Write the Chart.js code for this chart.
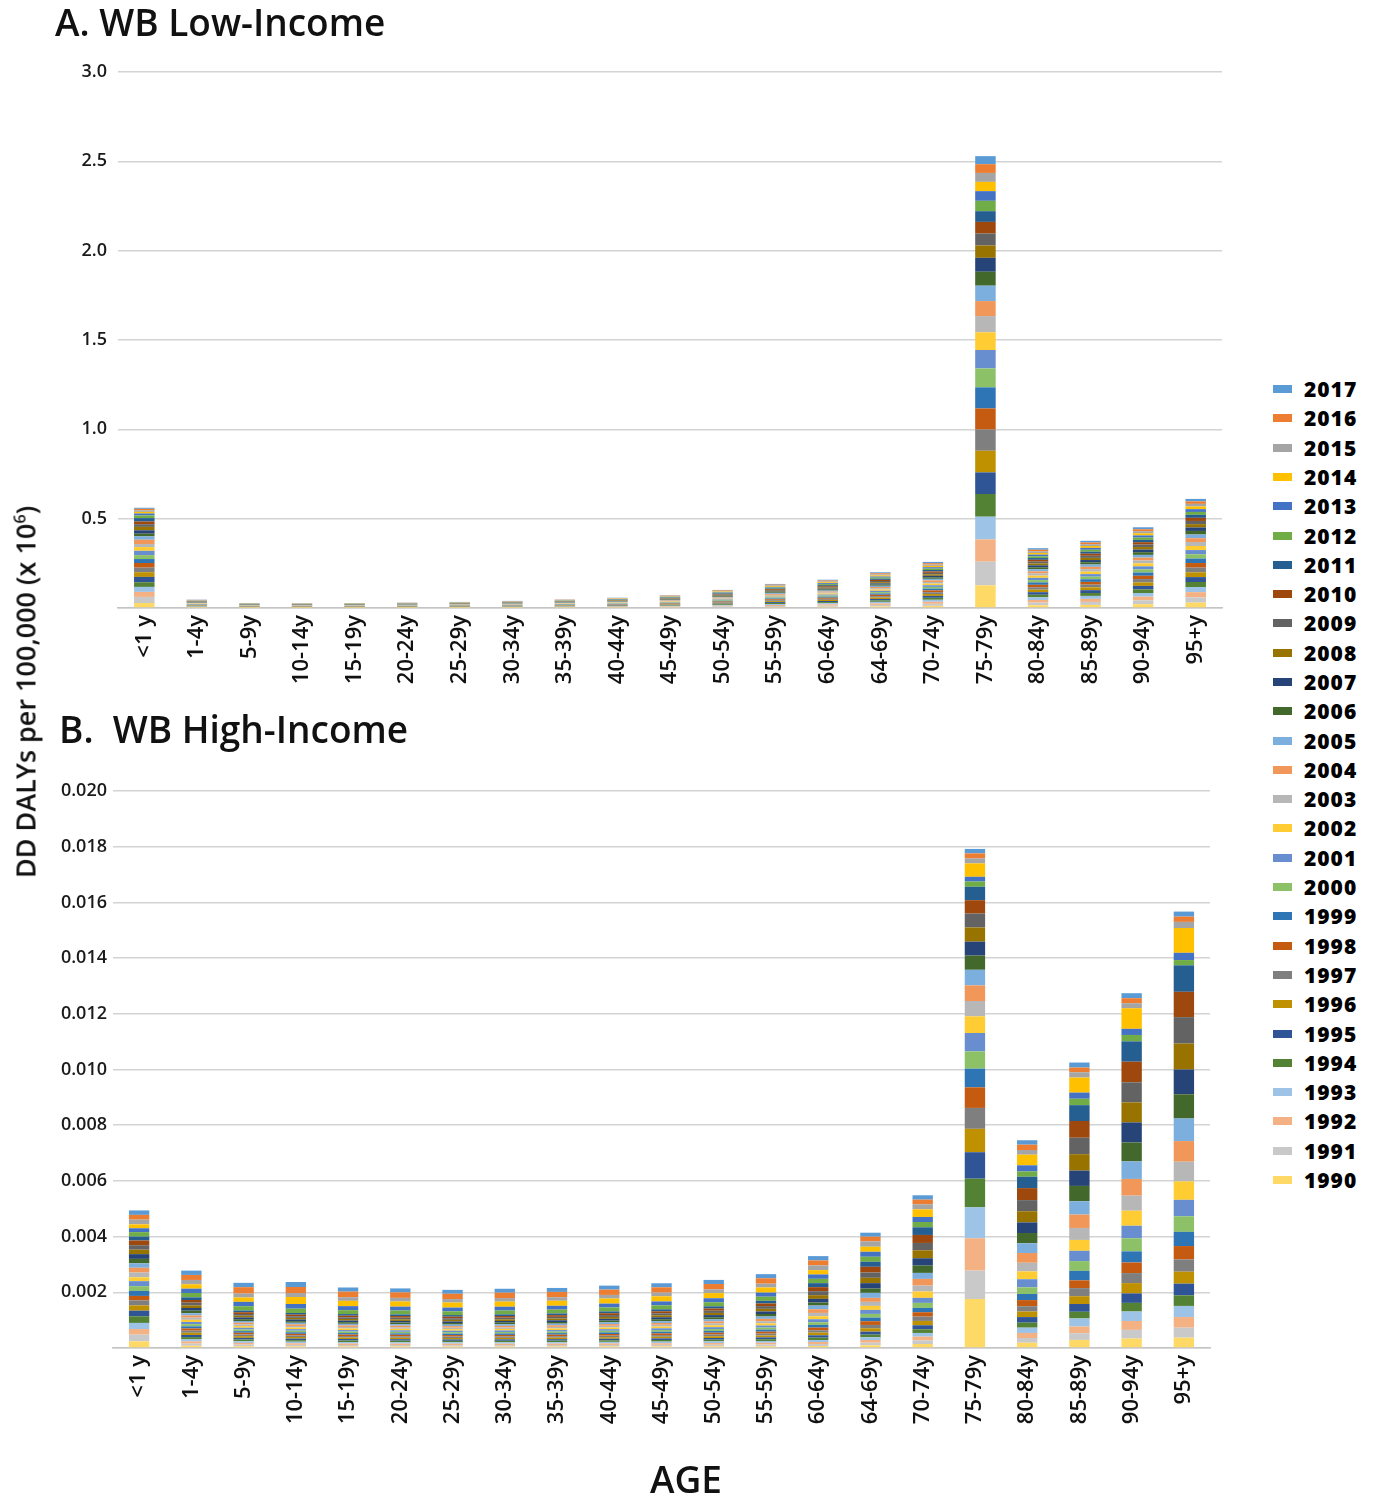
<!DOCTYPE html>
<html><head><meta charset="utf-8">
<script src="https://cdn.jsdelivr.net/npm/chart.js@4.4.1/dist/chart.umd.min.js"></script>
<style>
html,body{margin:0;padding:0;background:#fff;}
#wrap{position:relative;width:1382px;height:1496px;overflow:hidden;font-family:'Open Sans',sans-serif;background:#fff;}
canvas{position:absolute;}
#cA{left:0;top:0;}
#cB{left:0;top:700px;}
#ytitle{position:absolute;left:25px;top:692px;transform:translate(-50%,-50%) rotate(-90deg);white-space:nowrap;font-size:27px;font-weight:600;color:#111;}
#ytitle sup{font-size:0.6em;vertical-align:super;line-height:0;}
#xtitle{position:absolute;left:686px;top:1478px;transform:translate(-50%,-50%);font-size:37px;font-weight:600;color:#111;}
#legend{position:absolute;left:1273px;top:374.4px;}
.li{height:29.3px;display:flex;align-items:center;}
.sw{width:19px;height:8px;margin-right:12px;}
.lt{font-size:21px;font-weight:800;letter-spacing:1px;color:#000;}
</style></head><body>
<div id="wrap">
<canvas id="cA" width="1240" height="700"></canvas>
<canvas id="cB" width="1240" height="796"></canvas>
<div id="ytitle">DD DALYs per 100,000 (x 10<sup>6</sup>)</div>
<div id="xtitle">AGE</div>
<div id="legend"></div>
</div>
<script>
// ---------- categories & series ----------
const AGE_GROUPS = ["<1 y","1-4y","5-9y","10-14y","15-19y","20-24y","25-29y","30-34y","35-39y","40-44y","45-49y","50-54y","55-59y","60-64y","64-69y","70-74y","75-79y","80-84y","85-89y","90-94y","95+y"];
const YEARS = ["1990","1991","1992","1993","1994","1995","1996","1997","1998","1999","2000","2001","2002","2003","2004","2005","2006","2007","2008","2009","2010","2011","2012","2013","2014","2015","2016","2017"];
const YEAR_COLORS = ["#FFD966","#C9C9C9","#F4B183","#9DC3E6","#548235","#2F5597","#BF9000","#7F7F7F","#C55A11","#2E75B6","#8CC168","#698ED0","#FFCD33","#B7B7B7","#F1975A","#7CAFDD","#43682B","#264478","#997300","#636363","#9E480E","#255E91","#70AD47","#4472C4","#FFC000","#A5A5A5","#ED7D31","#5B9BD5"];

// ---------- A. WB Low-Income (values per age group, years 1990..2017) ----------
const L_lt1   = [0.028,0.034,0.028,0.028,0.026,0.030,0.026,0.026,0.026,0.022,0.022,0.024,0.021,0.017,0.024,0.019,0.015,0.019,0.019,0.015,0.015,0.019,0.015,0.011,0.009,0.009,0.008,0.006];
const L_1_4   = [0.0021,0.0020,0.0020,0.0019,0.0019,0.0019,0.0018,0.0018,0.0018,0.0017,0.0017,0.0017,0.0017,0.0016,0.0016,0.0016,0.0016,0.0016,0.0016,0.0015,0.0015,0.0015,0.0015,0.0015,0.0014,0.0014,0.0014,0.0014];
const L_5_9   = [0.0012,0.0012,0.0012,0.0011,0.0011,0.0011,0.0011,0.0011,0.0010,0.0010,0.0010,0.0010,0.0010,0.0010,0.0010,0.0010,0.0010,0.0009,0.0009,0.0009,0.0009,0.0009,0.0009,0.0009,0.0009,0.0009,0.0008,0.0008];
const L_10_14 = [0.0011,0.0011,0.0011,0.0011,0.0011,0.0010,0.0010,0.0010,0.0010,0.0010,0.0010,0.0010,0.0010,0.0010,0.0009,0.0009,0.0009,0.0009,0.0009,0.0009,0.0009,0.0009,0.0009,0.0009,0.0009,0.0008,0.0008,0.0008];
const L_15_19 = [0.0012,0.0011,0.0011,0.0011,0.0011,0.0011,0.0011,0.0010,0.0010,0.0010,0.0010,0.0010,0.0010,0.0010,0.0010,0.0010,0.0010,0.0010,0.0009,0.0009,0.0009,0.0009,0.0009,0.0009,0.0009,0.0009,0.0009,0.0008];
const L_20_24 = [0.0013,0.0012,0.0012,0.0012,0.0012,0.0012,0.0011,0.0011,0.0011,0.0011,0.0011,0.0011,0.0011,0.0011,0.0010,0.0010,0.0010,0.0010,0.0010,0.0010,0.0010,0.0010,0.0010,0.0010,0.0010,0.0009,0.0009,0.0009];
const L_25_29 = [0.0015,0.0014,0.0014,0.0014,0.0014,0.0013,0.0013,0.0013,0.0013,0.0013,0.0012,0.0012,0.0012,0.0012,0.0012,0.0012,0.0012,0.0012,0.0011,0.0011,0.0011,0.0011,0.0011,0.0011,0.0011,0.0010,0.0010,0.0010];
const L_30_34 = [0.0017,0.0017,0.0016,0.0016,0.0016,0.0016,0.0015,0.0015,0.0015,0.0015,0.0015,0.0014,0.0014,0.0014,0.0014,0.0014,0.0014,0.0014,0.0013,0.0013,0.0013,0.0013,0.0013,0.0013,0.0012,0.0012,0.0012,0.0012];
const L_35_39 = [0.0021,0.0020,0.0020,0.0019,0.0019,0.0019,0.0019,0.0018,0.0018,0.0018,0.0018,0.0017,0.0017,0.0017,0.0017,0.0017,0.0016,0.0016,0.0016,0.0016,0.0016,0.0015,0.0015,0.0015,0.0015,0.0015,0.0014,0.0014];
const L_40_44 = [0.0025,0.0024,0.0024,0.0023,0.0023,0.0023,0.0022,0.0022,0.0022,0.0021,0.0021,0.0021,0.0021,0.0020,0.0020,0.0020,0.0020,0.0020,0.0019,0.0019,0.0019,0.0019,0.0018,0.0018,0.0018,0.0018,0.0017,0.0017];
const L_45_49 = [0.0031,0.0030,0.0030,0.0029,0.0029,0.0028,0.0028,0.0028,0.0027,0.0027,0.0026,0.0026,0.0026,0.0025,0.0025,0.0025,0.0024,0.0024,0.0024,0.0024,0.0023,0.0023,0.0023,0.0022,0.0022,0.0022,0.0021,0.0021];
const L_50_54 = [0.0043,0.0042,0.0042,0.0041,0.0040,0.0040,0.0039,0.0039,0.0038,0.0038,0.0037,0.0037,0.0036,0.0036,0.0035,0.0035,0.0035,0.0034,0.0034,0.0034,0.0033,0.0033,0.0033,0.0032,0.0032,0.0032,0.0031,0.0031];
const L_55_59 = [0.0057,0.0056,0.0056,0.0055,0.0054,0.0053,0.0052,0.0052,0.0051,0.0050,0.0050,0.0049,0.0048,0.0048,0.0047,0.0047,0.0046,0.0046,0.0045,0.0045,0.0044,0.0044,0.0043,0.0043,0.0042,0.0042,0.0041,0.0041];
const L_60_64 = [0.0068,0.0067,0.0066,0.0065,0.0064,0.0063,0.0062,0.0061,0.0060,0.0059,0.0058,0.0058,0.0057,0.0056,0.0056,0.0055,0.0054,0.0054,0.0053,0.0052,0.0052,0.0051,0.0050,0.0050,0.0049,0.0048,0.0048,0.0047];
const L_64_69 = [0.0088,0.0086,0.0085,0.0084,0.0082,0.0081,0.0079,0.0078,0.0077,0.0075,0.0074,0.0073,0.0072,0.0071,0.0070,0.0069,0.0068,0.0067,0.0066,0.0065,0.0064,0.0063,0.0062,0.0062,0.0061,0.0060,0.0059,0.0058];
const L_70_74 = [0.0118,0.0116,0.0114,0.0112,0.0110,0.0107,0.0105,0.0103,0.0101,0.0098,0.0096,0.0094,0.0092,0.0090,0.0089,0.0087,0.0086,0.0084,0.0083,0.0082,0.0080,0.0079,0.0078,0.0077,0.0076,0.0075,0.0074,0.0073];
const L_75_79 = [0.127,0.132,0.125,0.127,0.127,0.121,0.121,0.119,0.118,0.118,0.106,0.103,0.099,0.091,0.084,0.086,0.078,0.078,0.069,0.067,0.065,0.060,0.058,0.054,0.052,0.050,0.049,0.045];
const L_80_84 = [0.0152,0.0150,0.0148,0.0147,0.0145,0.0142,0.0140,0.0138,0.0136,0.0133,0.0130,0.0127,0.0124,0.0121,0.0118,0.0115,0.0112,0.0109,0.0106,0.0103,0.0101,0.0099,0.0097,0.0095,0.0093,0.0091,0.0089,0.0087];
const L_85_89 = [0.0172,0.0170,0.0168,0.0166,0.0163,0.0160,0.0157,0.0154,0.0151,0.0148,0.0145,0.0142,0.0139,0.0136,0.0133,0.0130,0.0127,0.0124,0.0121,0.0118,0.0115,0.0112,0.0109,0.0106,0.0103,0.0100,0.0097,0.0094];
const L_90_94 = [0.0215,0.0212,0.0208,0.0205,0.0201,0.0197,0.0193,0.0189,0.0184,0.0180,0.0176,0.0172,0.0167,0.0162,0.0158,0.0154,0.0150,0.0146,0.0142,0.0138,0.0134,0.0130,0.0126,0.0122,0.0119,0.0116,0.0113,0.0110];
const L_95p   = [0.0300,0.0296,0.0291,0.0286,0.0281,0.0275,0.0269,0.0263,0.0256,0.0249,0.0242,0.0235,0.0228,0.0221,0.0214,0.0207,0.0200,0.0193,0.0186,0.0180,0.0174,0.0168,0.0162,0.0156,0.0151,0.0146,0.0141,0.0136];

// ---------- B. WB High-Income (values per age group, years 1990..2017) ----------
const H_lt1   = [0.00024,0.00024,0.00020,0.00022,0.00024,0.00020,0.00019,0.00018,0.00016,0.00018,0.00017,0.00018,0.00014,0.00017,0.00017,0.00016,0.00016,0.00017,0.00016,0.00016,0.00017,0.00014,0.00016,0.00014,0.00014,0.00017,0.00017,0.00016];
const H_1_4   = [0.000080,0.000078,0.000079,0.000077,0.000078,0.000076,0.000079,0.000077,0.000078,0.000076,0.000078,0.000079,0.000077,0.000078,0.000079,0.000080,0.000092,0.000096,0.000094,0.000097,0.000095,0.000096,0.000156,0.000156,0.000156,0.000156,0.000180,0.000156];
const H_5_9   = [0.000062,0.000060,0.000061,0.000060,0.000062,0.000061,0.000060,0.000061,0.000060,0.000059,0.000060,0.000061,0.000060,0.000061,0.000060,0.000062,0.000063,0.000064,0.000062,0.000063,0.000062,0.000061,0.000156,0.000156,0.000156,0.000144,0.000227,0.000156];
const H_10_14 = [0.000056,0.000057,0.000056,0.000057,0.000056,0.000056,0.000057,0.000056,0.000057,0.000056,0.000057,0.000056,0.000057,0.000057,0.000058,0.000057,0.000058,0.000059,0.000058,0.000059,0.000058,0.000058,0.000156,0.000168,0.000251,0.000144,0.000215,0.000180];
const H_15_19 = [0.000054,0.000054,0.000053,0.000054,0.000053,0.000054,0.000053,0.000054,0.000053,0.000054,0.000054,0.000055,0.000055,0.000056,0.000056,0.000056,0.000058,0.000058,0.000059,0.000058,0.000059,0.000058,0.000140,0.000145,0.000190,0.000130,0.000200,0.000150];
const H_20_24 = [0.000053,0.000053,0.000052,0.000053,0.000052,0.000053,0.000052,0.000053,0.000053,0.000053,0.000054,0.000054,0.000055,0.000055,0.000056,0.000056,0.000057,0.000058,0.000058,0.000059,0.000058,0.000058,0.000140,0.000140,0.000185,0.000130,0.000195,0.000145];
const H_25_29 = [0.000052,0.000051,0.000051,0.000052,0.000051,0.000052,0.000051,0.000052,0.000052,0.000052,0.000053,0.000053,0.000054,0.000054,0.000055,0.000055,0.000056,0.000057,0.000057,0.000058,0.000057,0.000057,0.000135,0.000135,0.000180,0.000125,0.000190,0.000140];
const H_30_34 = [0.000052,0.000052,0.000051,0.000052,0.000052,0.000052,0.000052,0.000053,0.000053,0.000053,0.000054,0.000054,0.000055,0.000055,0.000056,0.000057,0.000058,0.000059,0.000059,0.000060,0.000059,0.000059,0.000138,0.000138,0.000182,0.000128,0.000192,0.000142];
const H_35_39 = [0.000053,0.000053,0.000052,0.000053,0.000053,0.000053,0.000054,0.000054,0.000054,0.000055,0.000055,0.000056,0.000056,0.000057,0.000058,0.000058,0.000060,0.000061,0.000061,0.000062,0.000061,0.000061,0.000138,0.000138,0.000180,0.000128,0.000190,0.000142];
const H_40_44 = [0.000055,0.000055,0.000055,0.000055,0.000056,0.000056,0.000056,0.000057,0.000057,0.000058,0.000058,0.000059,0.000060,0.000060,0.000061,0.000062,0.000064,0.000065,0.000066,0.000067,0.000066,0.000066,0.000140,0.000140,0.000182,0.000130,0.000190,0.000144];
const H_45_49 = [0.000057,0.000057,0.000057,0.000058,0.000058,0.000058,0.000059,0.000059,0.000060,0.000061,0.000061,0.000062,0.000063,0.000064,0.000065,0.000066,0.000068,0.000070,0.000071,0.000072,0.000071,0.000071,0.000142,0.000142,0.000185,0.000132,0.000190,0.000146];
const H_50_54 = [0.000059,0.000059,0.000060,0.000060,0.000061,0.000061,0.000062,0.000063,0.000064,0.000065,0.000066,0.000067,0.000068,0.000070,0.000071,0.000073,0.000075,0.000077,0.000078,0.000080,0.000079,0.000079,0.000145,0.000145,0.000185,0.000135,0.000190,0.000148];
const H_55_59 = [0.000062,0.000062,0.000063,0.000064,0.000065,0.000066,0.000067,0.000068,0.000070,0.000072,0.000073,0.000075,0.000077,0.000080,0.000082,0.000085,0.000089,0.000092,0.000094,0.000097,0.000096,0.000095,0.000148,0.000148,0.000182,0.000138,0.000192,0.000150];
const H_60_64 = [0.000072,0.000072,0.000072,0.000072,0.000084,0.000084,0.000096,0.000084,0.000096,0.000096,0.000096,0.000108,0.000108,0.000120,0.000132,0.000132,0.000108,0.000132,0.000132,0.000144,0.000144,0.000144,0.000156,0.000156,0.000156,0.000168,0.000180,0.000156];
const H_64_69 = [0.000096,0.000096,0.000096,0.000096,0.000096,0.000108,0.000120,0.000120,0.000132,0.000132,0.000132,0.000144,0.000144,0.000144,0.000144,0.000180,0.000156,0.000192,0.000192,0.000192,0.000204,0.000180,0.000180,0.000180,0.000180,0.000192,0.000168,0.000144];
const H_70_74 = [0.000144,0.000132,0.000132,0.000132,0.000132,0.000144,0.000156,0.000156,0.000156,0.000156,0.000180,0.000180,0.000227,0.000215,0.000239,0.000215,0.000263,0.000263,0.000287,0.000263,0.000287,0.000275,0.000191,0.000180,0.000275,0.000180,0.000168,0.000156];
const H_75_79 = [0.00176,0.00102,0.00116,0.00111,0.00103,0.00095,0.00084,0.00075,0.00074,0.00067,0.00062,0.00066,0.00060,0.00055,0.00056,0.00056,0.00051,0.00050,0.00051,0.00050,0.00048,0.00048,0.00019,0.00017,0.00048,0.00018,0.00018,0.00016];
const H_80_84 = [0.00019,0.00017,0.00018,0.00019,0.00018,0.00020,0.00020,0.00019,0.00022,0.00022,0.00024,0.00029,0.00028,0.00031,0.00035,0.00035,0.00037,0.00038,0.00040,0.00040,0.00043,0.00041,0.00019,0.00022,0.00038,0.00017,0.00019,0.00016];
const H_85_89 = [0.00029,0.00024,0.00024,0.00029,0.00024,0.00028,0.00028,0.00029,0.00028,0.00034,0.00035,0.00037,0.00039,0.00043,0.00048,0.00048,0.00055,0.00055,0.00059,0.00059,0.00060,0.00057,0.00023,0.00022,0.00054,0.00019,0.00017,0.00018];
const H_90_94 = [0.00034,0.00031,0.00032,0.00034,0.00031,0.00034,0.00037,0.00036,0.00038,0.00040,0.00047,0.00045,0.00054,0.00054,0.00060,0.00063,0.00068,0.00072,0.00072,0.00072,0.00074,0.00073,0.00023,0.00022,0.00074,0.00018,0.00018,0.00018];
const H_95p   = [0.00037,0.00036,0.00038,0.00040,0.00038,0.00042,0.00043,0.00044,0.00048,0.00051,0.00056,0.00059,0.00066,0.00071,0.00074,0.00081,0.00087,0.00089,0.00093,0.00095,0.00091,0.00095,0.00019,0.00026,0.00089,0.00022,0.00019,0.00018];

const LOW_GROUPS  = [L_lt1,L_1_4,L_5_9,L_10_14,L_15_19,L_20_24,L_25_29,L_30_34,L_35_39,L_40_44,L_45_49,L_50_54,L_55_59,L_60_64,L_64_69,L_70_74,L_75_79,L_80_84,L_85_89,L_90_94,L_95p];
const HIGH_GROUPS = [H_lt1,H_1_4,H_5_9,H_10_14,H_15_19,H_20_24,H_25_29,H_30_34,H_35_39,H_40_44,H_45_49,H_50_54,H_55_59,H_60_64,H_64_69,H_70_74,H_75_79,H_80_84,H_85_89,H_90_94,H_95p];

const TITLE_A = "A. WB Low-Income";
const TITLE_B = "B.  WB High-Income";

Chart.defaults.font.family = "'Open Sans', 'Noto Sans', sans-serif";

function buildDatasets(groups) {
  return YEARS.map((yr, i) => ({
    label: yr,
    data: groups.map(g => g[i]),
    backgroundColor: YEAR_COLORS[i],
    borderWidth: 0,
    barPercentage: 0.39,
    categoryPercentage: 1.0
  }));
}

function makeChart(id, title, groups, cfg) {
  return new Chart(document.getElementById(id), {
    type: 'bar',
    data: { labels: AGE_GROUPS, datasets: buildDatasets(groups) },
    options: {
      responsive: false,
      animation: false,
      layout: { padding: { left: cfg.padLeft, right: cfg.padRight, top: 0, bottom: cfg.padBottom } },
      plugins: {
        legend: { display: false },
        tooltip: { enabled: false },
        title: {
          display: true, text: title, align: 'start', color: '#111',
          font: { size: 37, weight: '600' },
          padding: { top: cfg.titleTop, bottom: cfg.titleBottom }
        }
      },
      scales: {
        x: {
          stacked: true,
          grid: { display: false, drawTicks: false },
          border: { display: true, color: '#c4c4c4', width: 1.5 },
          ticks: { autoSkip: false, minRotation: 90, maxRotation: 90, padding: 7, color: '#111', font: { size: 22, weight: '600' } },
          afterFit: s => { s.height = 92; }
        },
        y: {
          stacked: true, min: 0, max: cfg.max,
          grid: { color: '#d3d3d3', lineWidth: 1.5, drawTicks: false },
          border: { display: false },
          ticks: {
            stepSize: cfg.step, padding: cfg.tickPad, color: '#1a1a1a', font: { size: 18, weight: '600' },
            callback: v => (Math.abs(v) < 1e-12 ? '' : Number(v).toFixed(cfg.dec))
          },
          afterFit: s => { s.width = cfg.axisW; }
        }
      }
    }
  });
}

makeChart('cA', TITLE_A, LOW_GROUPS, {
  padLeft: 55, padRight: 18, padBottom: 0, titleTop: 2.8, titleBottom: 24.8,
  max: 3.0, step: 0.5, dec: 1, tickPad: 11, axisW: 63
});
makeChart('cB', TITLE_B, HIGH_GROUPS, {
  padLeft: 59, padRight: 30, padBottom: 56, titleTop: 9.8, titleBottom: 36.8,
  max: 0.02, step: 0.002, dec: 3, tickPad: 6, axisW: 54
});

// shared legend (newest year on top), built from the same series arrays
const legend = document.getElementById('legend');
for (let i = YEARS.length - 1; i >= 0; i--) {
  const row = document.createElement('div');
  row.className = 'li';
  const sw = document.createElement('span');
  sw.className = 'sw';
  sw.style.background = YEAR_COLORS[i];
  const tx = document.createElement('span');
  tx.className = 'lt';
  tx.textContent = YEARS[i];
  row.appendChild(sw); row.appendChild(tx);
  legend.appendChild(row);
}
</script>
</body></html>
